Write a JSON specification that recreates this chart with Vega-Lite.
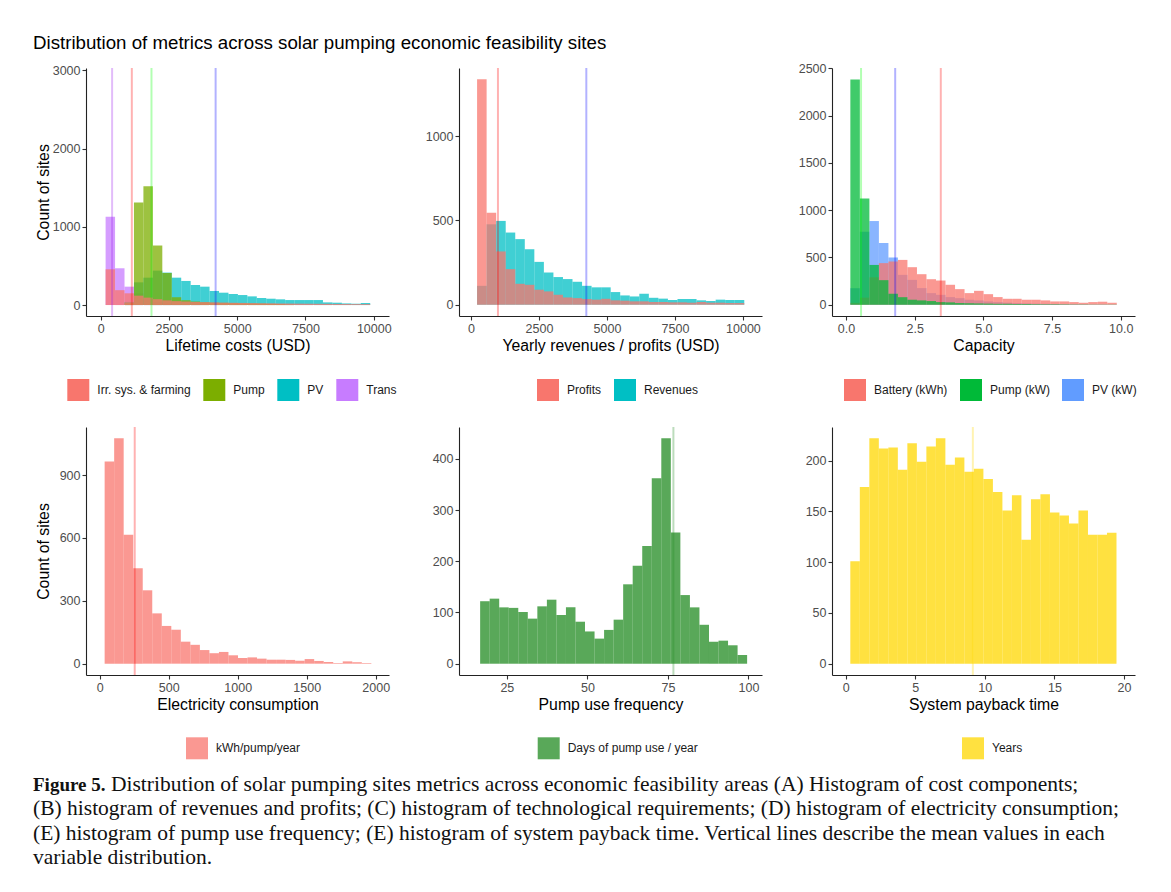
{
  "$schema": "https://vega.github.io/schema/vega-lite/v6.json",
  "background": "white",
  "padding": {"left": 33, "top": 33, "right": 10, "bottom": 5},
  "title": {"text": "Distribution of metrics across solar pumping economic feasibility sites", "anchor": "start", "frame": "group", "font": "Liberation Sans", "fontSize": 18.7, "fontWeight": "normal", "color": "black", "offset": 10, "dx": -53},
  "datasets": {
    "p1": [
      {"s":"Trans","a":182,"b":528,"n":1128},{"s":"Trans","a":528,"b":874,"n":470},{"s":"Trans","a":874,"b":1220,"n":235},{"s":"Trans","a":1220,"b":1566,"n":150},{"s":"Trans","a":1566,"b":1912,"n":80},{"s":"Trans","a":1912,"b":2258,"n":40},{"s":"Trans","a":2258,"b":2604,"n":20},{"s":"Trans","a":2604,"b":2950,"n":12},{"s":"Trans","a":2950,"b":3296,"n":6},{"s":"Trans","a":3296,"b":3642,"n":3},
      {"s":"PV","a":874,"b":1220,"n":40},{"s":"PV","a":1220,"b":1566,"n":290},{"s":"PV","a":1566,"b":1912,"n":350},{"s":"PV","a":1912,"b":2258,"n":440},{"s":"PV","a":2258,"b":2604,"n":415},{"s":"PV","a":2604,"b":2950,"n":350},{"s":"PV","a":2950,"b":3296,"n":308},{"s":"PV","a":3296,"b":3642,"n":256},{"s":"PV","a":3642,"b":3988,"n":235},{"s":"PV","a":3988,"b":4334,"n":180},{"s":"PV","a":4334,"b":4680,"n":158},{"s":"PV","a":4680,"b":5026,"n":141},{"s":"PV","a":5026,"b":5372,"n":128},{"s":"PV","a":5372,"b":5718,"n":111},{"s":"PV","a":5718,"b":6064,"n":90},{"s":"PV","a":6064,"b":6410,"n":81},{"s":"PV","a":6410,"b":6756,"n":73},{"s":"PV","a":6756,"b":7102,"n":64},{"s":"PV","a":7102,"b":7448,"n":64},{"s":"PV","a":7448,"b":7794,"n":64},{"s":"PV","a":7794,"b":8140,"n":64},{"s":"PV","a":8140,"b":8486,"n":34},{"s":"PV","a":8486,"b":8832,"n":30},{"s":"PV","a":8832,"b":9178,"n":21},{"s":"PV","a":9178,"b":9524,"n":17},{"s":"PV","a":9524,"b":9870,"n":26},
      {"s":"Pump","a":874,"b":1220,"n":30},{"s":"Pump","a":1220,"b":1566,"n":1312},{"s":"Pump","a":1566,"b":1912,"n":1517},{"s":"Pump","a":1912,"b":2258,"n":761},{"s":"Pump","a":2258,"b":2604,"n":410},{"s":"Pump","a":2604,"b":2950,"n":100},{"s":"Pump","a":2950,"b":3296,"n":62},{"s":"Pump","a":3296,"b":3642,"n":45},{"s":"Pump","a":3642,"b":3988,"n":35},{"s":"Pump","a":3988,"b":4334,"n":30},{"s":"Pump","a":4334,"b":4680,"n":28},{"s":"Pump","a":4680,"b":5026,"n":25},{"s":"Pump","a":5026,"b":5372,"n":22},{"s":"Pump","a":5372,"b":5718,"n":20},{"s":"Pump","a":5718,"b":6064,"n":18},{"s":"Pump","a":6064,"b":6410,"n":15},{"s":"Pump","a":6410,"b":6756,"n":12},{"s":"Pump","a":6756,"b":7102,"n":5},
      {"s":"Irr. sys. & farming","a":182,"b":528,"n":457},{"s":"Irr. sys. & farming","a":528,"b":874,"n":190},{"s":"Irr. sys. & farming","a":874,"b":1220,"n":150},{"s":"Irr. sys. & farming","a":1220,"b":1566,"n":120},{"s":"Irr. sys. & farming","a":1566,"b":1912,"n":95},{"s":"Irr. sys. & farming","a":1912,"b":2258,"n":75},{"s":"Irr. sys. & farming","a":2258,"b":2604,"n":60},{"s":"Irr. sys. & farming","a":2604,"b":2950,"n":50},{"s":"Irr. sys. & farming","a":2950,"b":3296,"n":45},{"s":"Irr. sys. & farming","a":3296,"b":3642,"n":40},{"s":"Irr. sys. & farming","a":3642,"b":3988,"n":37},{"s":"Irr. sys. & farming","a":3988,"b":4334,"n":34},{"s":"Irr. sys. & farming","a":4334,"b":4680,"n":31},{"s":"Irr. sys. & farming","a":4680,"b":5026,"n":29},{"s":"Irr. sys. & farming","a":5026,"b":5372,"n":27},{"s":"Irr. sys. & farming","a":5372,"b":5718,"n":25},{"s":"Irr. sys. & farming","a":5718,"b":6064,"n":23},{"s":"Irr. sys. & farming","a":6064,"b":6410,"n":22},{"s":"Irr. sys. & farming","a":6410,"b":6756,"n":20},{"s":"Irr. sys. & farming","a":6756,"b":7102,"n":19},{"s":"Irr. sys. & farming","a":7102,"b":7448,"n":18},{"s":"Irr. sys. & farming","a":7448,"b":7794,"n":17},{"s":"Irr. sys. & farming","a":7794,"b":8140,"n":16},{"s":"Irr. sys. & farming","a":8140,"b":8486,"n":15},{"s":"Irr. sys. & farming","a":8486,"b":8832,"n":14},{"s":"Irr. sys. & farming","a":8832,"b":9178,"n":13},{"s":"Irr. sys. & farming","a":9178,"b":9524,"n":12},{"s":"Irr. sys. & farming","a":9524,"b":9870,"n":12}
    ],
    "m1": [{"s":"Trans","m":420},{"s":"Irr","m":1142},{"s":"Pump","m":1861},{"s":"PV","m":4210}],
    "p2": [
      {"s":"Revenues","a":222,"b":573,"n":112},{"s":"Revenues","a":573,"b":924,"n":477},{"s":"Revenues","a":924,"b":1275,"n":497},{"s":"Revenues","a":1275,"b":1626,"n":428},{"s":"Revenues","a":1626,"b":1977,"n":389},{"s":"Revenues","a":1977,"b":2328,"n":329},{"s":"Revenues","a":2328,"b":2679,"n":254},{"s":"Revenues","a":2679,"b":3030,"n":191},{"s":"Revenues","a":3030,"b":3381,"n":164},{"s":"Revenues","a":3381,"b":3732,"n":152},{"s":"Revenues","a":3732,"b":4083,"n":136},{"s":"Revenues","a":4083,"b":4434,"n":112},{"s":"Revenues","a":4434,"b":4785,"n":103},{"s":"Revenues","a":4785,"b":5136,"n":103},{"s":"Revenues","a":5136,"b":5487,"n":75},{"s":"Revenues","a":5487,"b":5838,"n":55},{"s":"Revenues","a":5838,"b":6189,"n":49},{"s":"Revenues","a":6189,"b":6540,"n":65},{"s":"Revenues","a":6540,"b":6891,"n":41},{"s":"Revenues","a":6891,"b":7242,"n":36},{"s":"Revenues","a":7242,"b":7593,"n":28},{"s":"Revenues","a":7593,"b":7944,"n":34},{"s":"Revenues","a":7944,"b":8295,"n":34},{"s":"Revenues","a":8295,"b":8646,"n":26},{"s":"Revenues","a":8646,"b":8997,"n":22},{"s":"Revenues","a":8997,"b":9348,"n":30},{"s":"Revenues","a":9348,"b":9699,"n":28},{"s":"Revenues","a":9699,"b":10050,"n":28},
      {"s":"Profits","a":222,"b":573,"n":1337},{"s":"Profits","a":573,"b":924,"n":546},{"s":"Profits","a":924,"b":1275,"n":316},{"s":"Profits","a":1275,"b":1626,"n":211},{"s":"Profits","a":1626,"b":1977,"n":124},{"s":"Profits","a":1977,"b":2328,"n":118},{"s":"Profits","a":2328,"b":2679,"n":89},{"s":"Profits","a":2679,"b":3030,"n":79},{"s":"Profits","a":3030,"b":3381,"n":59},{"s":"Profits","a":3381,"b":3732,"n":43},{"s":"Profits","a":3732,"b":4083,"n":39},{"s":"Profits","a":4083,"b":4434,"n":34},{"s":"Profits","a":4434,"b":4785,"n":30},{"s":"Profits","a":4785,"b":5136,"n":35},{"s":"Profits","a":5136,"b":5487,"n":26},{"s":"Profits","a":5487,"b":5838,"n":24},{"s":"Profits","a":5838,"b":6189,"n":20},{"s":"Profits","a":6189,"b":6540,"n":20},{"s":"Profits","a":6540,"b":6891,"n":16},{"s":"Profits","a":6891,"b":7242,"n":16},{"s":"Profits","a":7242,"b":7593,"n":14},{"s":"Profits","a":7593,"b":7944,"n":14},{"s":"Profits","a":7944,"b":8295,"n":12},{"s":"Profits","a":8295,"b":8646,"n":16},{"s":"Profits","a":8646,"b":8997,"n":12},{"s":"Profits","a":8997,"b":9348,"n":12},{"s":"Profits","a":9348,"b":9699,"n":10},{"s":"Profits","a":9699,"b":10050,"n":10}
    ],
    "m2": [{"s":"Profits","m":990},{"s":"Revenues","m":4240}],
    "p3": [
      {"s":"PV (kW)","a":0.158,"b":0.504,"n":175},{"s":"PV (kW)","a":0.504,"b":0.851,"n":772},{"s":"PV (kW)","a":0.851,"b":1.197,"n":885},{"s":"PV (kW)","a":1.197,"b":1.544,"n":653},{"s":"PV (kW)","a":1.544,"b":1.89,"n":499},{"s":"PV (kW)","a":1.89,"b":2.236,"n":316},{"s":"PV (kW)","a":2.236,"b":2.583,"n":263},{"s":"PV (kW)","a":2.583,"b":2.929,"n":176},{"s":"PV (kW)","a":2.929,"b":3.276,"n":123},{"s":"PV (kW)","a":3.276,"b":3.622,"n":105},{"s":"PV (kW)","a":3.622,"b":3.969,"n":81},{"s":"PV (kW)","a":3.969,"b":4.315,"n":70},{"s":"PV (kW)","a":4.315,"b":4.661,"n":53},{"s":"PV (kW)","a":4.661,"b":5.008,"n":46},{"s":"PV (kW)","a":5.008,"b":5.354,"n":35},{"s":"PV (kW)","a":5.354,"b":5.701,"n":28},{"s":"PV (kW)","a":5.701,"b":6.047,"n":22},{"s":"PV (kW)","a":6.047,"b":6.393,"n":18},{"s":"PV (kW)","a":6.393,"b":6.74,"n":15},{"s":"PV (kW)","a":6.74,"b":7.086,"n":12},{"s":"PV (kW)","a":7.086,"b":7.433,"n":10},{"s":"PV (kW)","a":7.433,"b":7.779,"n":8},{"s":"PV (kW)","a":7.779,"b":8.125,"n":6},{"s":"PV (kW)","a":8.125,"b":8.472,"n":5},{"s":"PV (kW)","a":8.472,"b":8.818,"n":4},{"s":"PV (kW)","a":8.818,"b":9.165,"n":3},{"s":"PV (kW)","a":9.165,"b":9.511,"n":3},{"s":"PV (kW)","a":9.511,"b":9.857,"n":2},
      {"s":"Battery (kWh)","a":0.158,"b":0.504,"n":20},{"s":"Battery (kWh)","a":0.504,"b":0.851,"n":75},{"s":"Battery (kWh)","a":0.851,"b":1.197,"n":290},{"s":"Battery (kWh)","a":1.197,"b":1.544,"n":440},{"s":"Battery (kWh)","a":1.544,"b":1.89,"n":456},{"s":"Battery (kWh)","a":1.89,"b":2.236,"n":474},{"s":"Battery (kWh)","a":2.236,"b":2.583,"n":397},{"s":"Battery (kWh)","a":2.583,"b":2.929,"n":323},{"s":"Battery (kWh)","a":2.929,"b":3.276,"n":270},{"s":"Battery (kWh)","a":3.276,"b":3.622,"n":256},{"s":"Battery (kWh)","a":3.622,"b":3.969,"n":211},{"s":"Battery (kWh)","a":3.969,"b":4.315,"n":165},{"s":"Battery (kWh)","a":4.315,"b":4.661,"n":123},{"s":"Battery (kWh)","a":4.661,"b":5.008,"n":147},{"s":"Battery (kWh)","a":5.008,"b":5.354,"n":112},{"s":"Battery (kWh)","a":5.354,"b":5.701,"n":81},{"s":"Battery (kWh)","a":5.701,"b":6.047,"n":63},{"s":"Battery (kWh)","a":6.047,"b":6.393,"n":63},{"s":"Battery (kWh)","a":6.393,"b":6.74,"n":53},{"s":"Battery (kWh)","a":6.74,"b":7.086,"n":53},{"s":"Battery (kWh)","a":7.086,"b":7.433,"n":46},{"s":"Battery (kWh)","a":7.433,"b":7.779,"n":35},{"s":"Battery (kWh)","a":7.779,"b":8.125,"n":35},{"s":"Battery (kWh)","a":8.125,"b":8.472,"n":28},{"s":"Battery (kWh)","a":8.472,"b":8.818,"n":21},{"s":"Battery (kWh)","a":8.818,"b":9.165,"n":28},{"s":"Battery (kWh)","a":9.165,"b":9.511,"n":32},{"s":"Battery (kWh)","a":9.511,"b":9.857,"n":21},
      {"s":"Pump (kW)","a":0.158,"b":0.504,"n":2381},{"s":"Pump (kW)","a":0.504,"b":0.851,"n":1124},{"s":"Pump (kW)","a":0.851,"b":1.197,"n":421},{"s":"Pump (kW)","a":1.197,"b":1.544,"n":260},{"s":"Pump (kW)","a":1.544,"b":1.89,"n":115},{"s":"Pump (kW)","a":1.89,"b":2.236,"n":80},{"s":"Pump (kW)","a":2.236,"b":2.583,"n":53},{"s":"Pump (kW)","a":2.583,"b":2.929,"n":46},{"s":"Pump (kW)","a":2.929,"b":3.276,"n":39},{"s":"Pump (kW)","a":3.276,"b":3.622,"n":28},{"s":"Pump (kW)","a":3.622,"b":3.969,"n":25},{"s":"Pump (kW)","a":3.969,"b":4.315,"n":18},{"s":"Pump (kW)","a":4.315,"b":4.661,"n":16},{"s":"Pump (kW)","a":4.661,"b":5.008,"n":14},{"s":"Pump (kW)","a":5.008,"b":5.354,"n":12},{"s":"Pump (kW)","a":5.354,"b":5.701,"n":10},{"s":"Pump (kW)","a":5.701,"b":6.047,"n":10},{"s":"Pump (kW)","a":6.047,"b":6.393,"n":8},{"s":"Pump (kW)","a":6.393,"b":6.74,"n":8},{"s":"Pump (kW)","a":6.74,"b":7.086,"n":6},{"s":"Pump (kW)","a":7.086,"b":7.433,"n":5},{"s":"Pump (kW)","a":7.433,"b":7.779,"n":5},{"s":"Pump (kW)","a":7.779,"b":8.125,"n":4},{"s":"Pump (kW)","a":8.125,"b":8.472,"n":3},{"s":"Pump (kW)","a":8.472,"b":8.818,"n":3},{"s":"Pump (kW)","a":8.818,"b":9.165,"n":2},{"s":"Pump (kW)","a":9.165,"b":9.511,"n":2},{"s":"Pump (kW)","a":9.511,"b":9.857,"n":2}
    ],
    "m3": [{"s":"Pump","m":0.547},{"s":"PV","m":1.79},{"s":"Battery","m":3.45}],
    "p4": [
      {"s":"kWh/pump/year","a":36,"b":105,"n":965},{"s":"kWh/pump/year","a":105,"b":174,"n":1075},{"s":"kWh/pump/year","a":174,"b":243,"n":615},{"s":"kWh/pump/year","a":243,"b":312,"n":455},{"s":"kWh/pump/year","a":312,"b":381,"n":350},{"s":"kWh/pump/year","a":381,"b":450,"n":240},{"s":"kWh/pump/year","a":450,"b":519,"n":180},{"s":"kWh/pump/year","a":519,"b":588,"n":162},{"s":"kWh/pump/year","a":588,"b":657,"n":105},{"s":"kWh/pump/year","a":657,"b":726,"n":90},{"s":"kWh/pump/year","a":726,"b":795,"n":65},{"s":"kWh/pump/year","a":795,"b":864,"n":50},{"s":"kWh/pump/year","a":864,"b":933,"n":56},{"s":"kWh/pump/year","a":933,"b":1002,"n":40},{"s":"kWh/pump/year","a":1002,"b":1071,"n":27},{"s":"kWh/pump/year","a":1071,"b":1140,"n":30},{"s":"kWh/pump/year","a":1140,"b":1209,"n":24},{"s":"kWh/pump/year","a":1209,"b":1278,"n":19},{"s":"kWh/pump/year","a":1278,"b":1347,"n":19},{"s":"kWh/pump/year","a":1347,"b":1416,"n":18},{"s":"kWh/pump/year","a":1416,"b":1485,"n":14},{"s":"kWh/pump/year","a":1485,"b":1554,"n":22},{"s":"kWh/pump/year","a":1554,"b":1623,"n":13},{"s":"kWh/pump/year","a":1623,"b":1692,"n":8},{"s":"kWh/pump/year","a":1692,"b":1761,"n":3},{"s":"kWh/pump/year","a":1761,"b":1830,"n":11},{"s":"kWh/pump/year","a":1830,"b":1899,"n":7},{"s":"kWh/pump/year","a":1899,"b":1968,"n":3}
    ],
    "m4": [{"s":"kWh","m":254}],
    "p5": [
      {"s":"Days of pump use / year","a":16.7,"b":19.66,"n":122},{"s":"Days of pump use / year","a":19.66,"b":22.62,"n":127},{"s":"Days of pump use / year","a":22.62,"b":25.58,"n":110},{"s":"Days of pump use / year","a":25.58,"b":28.54,"n":109},{"s":"Days of pump use / year","a":28.54,"b":31.5,"n":101},{"s":"Days of pump use / year","a":31.5,"b":34.46,"n":88},{"s":"Days of pump use / year","a":34.46,"b":37.42,"n":112},{"s":"Days of pump use / year","a":37.42,"b":40.38,"n":125},{"s":"Days of pump use / year","a":40.38,"b":43.34,"n":95},{"s":"Days of pump use / year","a":43.34,"b":46.3,"n":110},{"s":"Days of pump use / year","a":46.3,"b":49.26,"n":82},{"s":"Days of pump use / year","a":49.26,"b":52.22,"n":63},{"s":"Days of pump use / year","a":52.22,"b":55.18,"n":49},{"s":"Days of pump use / year","a":55.18,"b":58.14,"n":66},{"s":"Days of pump use / year","a":58.14,"b":61.1,"n":86},{"s":"Days of pump use / year","a":61.1,"b":64.06,"n":155},{"s":"Days of pump use / year","a":64.06,"b":67.02,"n":191},{"s":"Days of pump use / year","a":67.02,"b":69.98,"n":230},{"s":"Days of pump use / year","a":69.98,"b":72.94,"n":362},{"s":"Days of pump use / year","a":72.94,"b":75.9,"n":440},{"s":"Days of pump use / year","a":75.9,"b":78.86,"n":256},{"s":"Days of pump use / year","a":78.86,"b":81.82,"n":134},{"s":"Days of pump use / year","a":81.82,"b":84.78,"n":110},{"s":"Days of pump use / year","a":84.78,"b":87.74,"n":76},{"s":"Days of pump use / year","a":87.74,"b":90.7,"n":43},{"s":"Days of pump use / year","a":90.7,"b":93.66,"n":45},{"s":"Days of pump use / year","a":93.66,"b":96.62,"n":36},{"s":"Days of pump use / year","a":96.62,"b":99.58,"n":17}
    ],
    "m5": [{"s":"Days","m":76.7}],
    "p6": [
      {"s":"Years","a":0.336,"b":1.019,"n":101},{"s":"Years","a":1.019,"b":1.702,"n":174},{"s":"Years","a":1.702,"b":2.385,"n":222},{"s":"Years","a":2.385,"b":3.068,"n":212},{"s":"Years","a":3.068,"b":3.751,"n":213},{"s":"Years","a":3.751,"b":4.434,"n":191},{"s":"Years","a":4.434,"b":5.117,"n":217},{"s":"Years","a":5.117,"b":5.8,"n":199},{"s":"Years","a":5.8,"b":6.483,"n":214},{"s":"Years","a":6.483,"b":7.166,"n":222},{"s":"Years","a":7.166,"b":7.849,"n":196},{"s":"Years","a":7.849,"b":8.532,"n":203},{"s":"Years","a":8.532,"b":9.215,"n":189},{"s":"Years","a":9.215,"b":9.898,"n":192},{"s":"Years","a":9.898,"b":10.581,"n":182},{"s":"Years","a":10.581,"b":11.264,"n":169},{"s":"Years","a":11.264,"b":11.947,"n":151},{"s":"Years","a":11.947,"b":12.63,"n":166},{"s":"Years","a":12.63,"b":13.313,"n":122},{"s":"Years","a":13.313,"b":13.996,"n":162},{"s":"Years","a":13.996,"b":14.679,"n":167},{"s":"Years","a":14.679,"b":15.362,"n":149},{"s":"Years","a":15.362,"b":16.045,"n":146},{"s":"Years","a":16.045,"b":16.728,"n":138},{"s":"Years","a":16.728,"b":17.411,"n":151},{"s":"Years","a":17.411,"b":18.094,"n":127},{"s":"Years","a":18.094,"b":18.777,"n":127},{"s":"Years","a":18.777,"b":19.46,"n":129}
    ],
    "m6": [{"s":"Years","m":9.14}],
    "cap1": [{"k":1,"t":"Figure 5."}],
    "cap2": [{"k":1,"t":"Distribution of solar pumping sites metrics across economic feasibility areas (A) Histogram of cost components;"}],
    "cap3": [
      {"k":2,"t":"(B) histogram of revenues and profits; (C) histogram of technological requirements; (D) histogram of electricity consumption;"},
      {"k":3,"t":"(E) histogram of pump use frequency; (E) histogram of system payback time. Vertical lines describe the mean values in each"},
      {"k":4,"t":"variable distribution."}
    ]
  },
  "vconcat": [
    {
      "vconcat": [
        {
          "hconcat": [
            {
              "width": 303, "height": 248,
              "layer": [
                {"data": {"name": "p1"}, "mark": {"type": "rect", "opacity": 0.75, "strokeWidth": 0},
                 "encoding": {
                   "x": {"field": "a", "type": "quantitative", "scale": {"domain": [-536, 10558], "nice": false, "zero": false}, "axis": {"values": [0, 2500, 5000, 7500, 10000], "format": "d", "title": "Lifetime costs (USD)"}},
                   "x2": {"field": "b"},
                   "y": {"field": "n", "type": "quantitative", "scale": {"domain": [-140, 3030], "nice": false, "zero": false}, "axis": {"values": [0, 1000, 2000, 3000], "format": "d", "title": "Count of sites"}},
                   "y2": {"datum": 0},
                   "color": {"field": "s", "type": "nominal", "scale": {"domain": ["Irr. sys. & farming", "Pump", "PV", "Trans"], "range": ["#F8766D", "#7CAE00", "#00BFC4", "#C77CFF"]}, "legend": {"title": null, "symbolOpacity": 1, "orient": "none", "legendX": -18.7, "legendY": 311}}
                 }},
                {"data": {"name": "m1"}, "mark": {"type": "rule", "strokeWidth": 2, "opacity": 0.3},
                 "encoding": {"x": {"field": "m", "type": "quantitative"}, "stroke": {"field": "s", "type": "nominal", "scale": {"domain": ["Trans", "Irr", "Pump", "PV"], "range": ["#A020F0", "#FF0000", "#00FF00", "#0000FF"]}, "legend": null}}}
              ]
            },
            {
              "width": 303, "height": 248,
              "layer": [
                {"data": {"name": "p2"}, "mark": {"type": "rect", "opacity": 0.75, "strokeWidth": 0},
                 "encoding": {
                   "x": {"field": "a", "type": "quantitative", "scale": {"domain": [-443, 10702], "nice": false, "zero": false}, "axis": {"values": [0, 2500, 5000, 7500, 10000], "format": "d", "title": "Yearly revenues / profits (USD)"}},
                   "x2": {"field": "b"},
                   "y": {"field": "n", "type": "quantitative", "scale": {"domain": [-67, 1404], "nice": false, "zero": false}, "axis": {"values": [0, 500, 1000], "format": "d", "title": null}},
                   "y2": {"datum": 0},
                   "color": {"field": "s", "type": "nominal", "scale": {"domain": ["Profits", "Revenues"], "range": ["#F8766D", "#00BFC4"]}, "legend": {"title": null, "symbolOpacity": 1, "orient": "none", "legendX": 78, "legendY": 311}}
                 }},
                {"data": {"name": "m2"}, "mark": {"type": "rule", "strokeWidth": 2, "opacity": 0.3},
                 "encoding": {"x": {"field": "m", "type": "quantitative"}, "stroke": {"field": "s", "type": "nominal", "scale": {"domain": ["Profits", "Revenues"], "range": ["#FF0000", "#0000FF"]}, "legend": null}}}
              ]
            },
            {
              "width": 303, "height": 248,
              "layer": [
                {"data": {"name": "p3"}, "mark": {"type": "rect", "opacity": 0.75, "strokeWidth": 0},
                 "encoding": {
                   "x": {"field": "a", "type": "quantitative", "scale": {"domain": [-0.51, 10.52], "nice": false, "zero": false}, "axis": {"values": [0, 2.5, 5, 7.5, 10], "format": ".1f", "title": "Capacity"}},
                   "x2": {"field": "b"},
                   "y": {"field": "n", "type": "quantitative", "scale": {"domain": [-119, 2503], "nice": false, "zero": false}, "axis": {"values": [0, 500, 1000, 1500, 2000, 2500], "format": "d", "title": null}},
                   "y2": {"datum": 0},
                   "color": {"field": "s", "type": "nominal", "scale": {"domain": ["Battery (kWh)", "Pump (kW)", "PV (kW)"], "range": ["#F8766D", "#00BA38", "#619CFF"]}, "legend": {"title": null, "symbolOpacity": 1, "orient": "none", "legendX": 12, "legendY": 311}}
                 }},
                {"data": {"name": "m3"}, "mark": {"type": "rule", "strokeWidth": 2, "opacity": 0.3},
                 "encoding": {"x": {"field": "m", "type": "quantitative"}, "stroke": {"field": "s", "type": "nominal", "scale": {"domain": ["Pump", "PV", "Battery"], "range": ["#00FF00", "#0000FF", "#FF0000"]}, "legend": null}}}
              ]
            }
          ],
          "spacing": 70, "bounds": "flush",
          "resolve": {"scale": {"color": "independent", "stroke": "independent"}, "legend": {"color": "independent"}}
        },
        {
          "hconcat": [
            {
              "width": 303, "height": 248,
              "layer": [
                {"data": {"name": "p4"}, "mark": {"type": "rect", "opacity": 0.75, "strokeWidth": 0},
                 "encoding": {
                   "x": {"field": "a", "type": "quantitative", "scale": {"domain": [-99, 2096], "nice": false, "zero": false}, "axis": {"values": [0, 500, 1000, 1500, 2000], "format": "d", "title": "Electricity consumption"}},
                   "x2": {"field": "b"},
                   "y": {"field": "n", "type": "quantitative", "scale": {"domain": [-54, 1129], "nice": false, "zero": false}, "axis": {"values": [0, 300, 600, 900], "format": "d", "title": "Count of sites"}},
                   "y2": {"datum": 0},
                   "color": {"field": "s", "type": "nominal", "scale": {"domain": ["kWh/pump/year"], "range": ["#F8766D"]}, "legend": {"title": null, "orient": "none", "legendX": 100, "legendY": 310.3}}
                 }},
                {"data": {"name": "m4"}, "mark": {"type": "rule", "strokeWidth": 2, "opacity": 0.3},
                 "encoding": {"x": {"field": "m", "type": "quantitative"}, "stroke": {"field": "s", "type": "nominal", "scale": {"domain": ["kWh"], "range": ["#FF0000"]}, "legend": null}}}
              ]
            },
            {
              "width": 303, "height": 248,
              "layer": [
                {"data": {"name": "p5"}, "mark": {"type": "rect", "opacity": 0.75, "strokeWidth": 0},
                 "encoding": {
                   "x": {"field": "a", "type": "quantitative", "scale": {"domain": [10.14, 104.2], "nice": false, "zero": false}, "axis": {"values": [25, 50, 75, 100], "format": "d", "title": "Pump use frequency"}},
                   "x2": {"field": "b"},
                   "y": {"field": "n", "type": "quantitative", "scale": {"domain": [-22, 462], "nice": false, "zero": false}, "axis": {"values": [0, 100, 200, 300, 400], "format": "d", "title": null}},
                   "y2": {"datum": 0},
                   "color": {"field": "s", "type": "nominal", "scale": {"domain": ["Days of pump use / year"], "range": ["#228B22"]}, "legend": {"title": null, "orient": "none", "legendX": 78.7, "legendY": 310.3}}
                 }},
                {"data": {"name": "m5"}, "mark": {"type": "rule", "strokeWidth": 2, "opacity": 0.3},
                 "encoding": {"x": {"field": "m", "type": "quantitative"}, "stroke": {"field": "s", "type": "nominal", "scale": {"domain": ["Days"], "range": ["#228B22"]}, "legend": null}}}
              ]
            },
            {
              "width": 303, "height": 248,
              "layer": [
                {"data": {"name": "p6"}, "mark": {"type": "rect", "opacity": 0.75, "strokeWidth": 0},
                 "encoding": {
                   "x": {"field": "a", "type": "quantitative", "scale": {"domain": [-0.98, 20.79], "nice": false, "zero": false}, "axis": {"values": [0, 5, 10, 15, 20], "format": "d", "title": "System payback time"}},
                   "x2": {"field": "b"},
                   "y": {"field": "n", "type": "quantitative", "scale": {"domain": [-11.1, 233.1], "nice": false, "zero": false}, "axis": {"values": [0, 50, 100, 150, 200], "format": "d", "title": null}},
                   "y2": {"datum": 0},
                   "color": {"field": "s", "type": "nominal", "scale": {"domain": ["Years"], "range": ["#FFD700"]}, "legend": {"title": null, "orient": "none", "legendX": 130, "legendY": 310.3}}
                 }},
                {"data": {"name": "m6"}, "mark": {"type": "rule", "strokeWidth": 2, "opacity": 0.3},
                 "encoding": {"x": {"field": "m", "type": "quantitative"}, "stroke": {"field": "s", "type": "nominal", "scale": {"domain": ["Years"], "range": ["#FFD700"]}, "legend": null}}}
              ]
            }
          ],
          "spacing": 70, "bounds": "flush",
          "resolve": {"scale": {"color": "independent", "stroke": "independent"}, "legend": {"color": "independent"}}
        }
      ],
      "spacing": 25,
      "resolve": {"scale": {"color": "independent", "stroke": "independent"}, "legend": {"color": "independent"}}
    },
    {
      "width": 1100, "height": 79,
      "layer": [
        {"data": {"name": "cap1"}, "mark": {"type": "text", "align": "left", "baseline": "middle", "font": "Liberation Serif", "fontSize": 19, "fontWeight": "bold", "color": "#111", "dx": -53},
         "encoding": {"y": {"field": "k", "type": "ordinal", "axis": null, "scale": {"padding": 0.11}}, "x": {"datum": 0, "type": "quantitative", "scale": {"domain": [0, 1]}, "axis": null}, "text": {"field": "t"}}},
        {"data": {"name": "cap2"}, "mark": {"type": "text", "align": "left", "baseline": "middle", "font": "Liberation Serif", "fontSize": 21.5, "color": "#111", "dx": 25},
         "encoding": {"y": {"field": "k", "type": "ordinal", "axis": null}, "x": {"datum": 0, "type": "quantitative", "axis": null}, "text": {"field": "t"}}},
        {"data": {"name": "cap3"}, "mark": {"type": "text", "align": "left", "baseline": "middle", "font": "Liberation Serif", "fontSize": 21.5, "color": "#111", "dx": -53},
         "encoding": {"y": {"field": "k", "type": "ordinal", "axis": null}, "x": {"datum": 0, "type": "quantitative", "axis": null}, "text": {"field": "t"}}}
      ]
    }
  ],
  "spacing": 13,
  "resolve": {"scale": {"color": "independent", "stroke": "independent"}, "legend": {"color": "independent"}},
  "config": {
    "font": "Liberation Sans",
    "view": {"stroke": null},
    "axis": {"grid": false, "domainColor": "#222222", "domainWidth": 1.1, "tickColor": "#333333", "tickSize": 4, "tickWidth": 1.1, "labelColor": "#4D4D4D", "labelFontSize": 12.5, "labelFont": "Liberation Sans", "labelPadding": 2, "labelOverlap": false, "labelFlush": false, "titleFont": "Liberation Sans", "titleFontSize": 15.8, "titleFontWeight": "normal", "titleColor": "black"},
    "axisX": {"titlePadding": 4},
    "axisY": {"titlePadding": 1, "minExtent": 34},
    "legend": {"direction": "horizontal", "symbolType": "square", "symbolSize": 484, "symbolStrokeWidth": 0, "labelFont": "Liberation Sans", "labelFontSize": 12, "labelColor": "#1A1A1A", "labelOffset": 8, "columnPadding": 12, "padding": 0}
  }
}
